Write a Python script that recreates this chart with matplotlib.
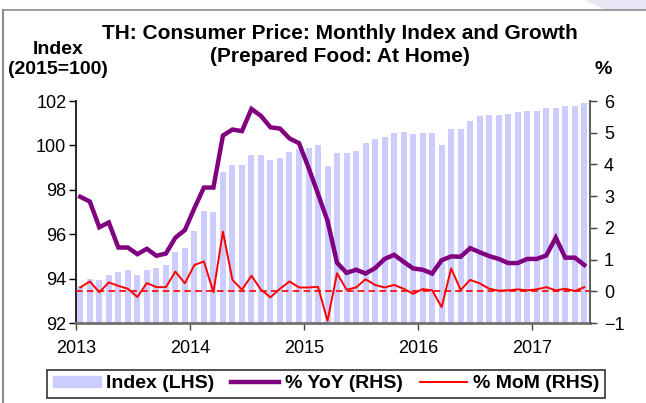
import numpy as np
import matplotlib
matplotlib.use("Agg")
import matplotlib.pyplot as plt
from matplotlib.lines import Line2D
from matplotlib.patches import Polygon

plt.rcParams['font.family'] = ['Liberation Sans', 'DejaVu Sans']

# monthly data, Jan 2013 - Jun 2017
index_lhs = [93.68, 93.98, 93.92, 94.17, 94.30, 94.37, 94.17, 94.40, 94.50, 94.61, 95.19, 95.39,
             96.15, 97.05, 97.00, 98.78, 99.11, 99.11, 99.57, 99.59, 99.36, 99.45, 99.71, 99.83,
             99.90, 100.02, 99.09, 99.65, 99.65, 99.75, 100.10, 100.29, 100.38, 100.55, 100.59, 100.50,
             100.55, 100.55, 100.02, 100.73, 100.74, 101.10, 101.33, 101.39, 101.39, 101.42, 101.50, 101.53,
             101.57, 101.69, 101.70, 101.78, 101.78, 101.91]
yoy = [2.98, 2.83, 2.02, 2.17, 1.38, 1.38, 1.17, 1.34, 1.12, 1.19, 1.69, 1.93,
       2.62, 3.27, 3.27, 4.91, 5.10, 5.05, 5.75, 5.53, 5.17, 5.13, 4.82, 4.67,
       3.90, 3.07, 2.22, 0.90, 0.58, 0.68, 0.56, 0.73, 1.02, 1.15, 0.93, 0.72,
       0.68, 0.56, 0.98, 1.10, 1.09, 1.36, 1.23, 1.11, 1.02, 0.89, 0.89, 1.02,
       1.02, 1.13, 1.69, 1.06, 1.06, 0.83]
mom = [0.12, 0.31, -0.03, 0.28, 0.17, 0.08, -0.18, 0.26, 0.13, 0.13, 0.62, 0.25,
       0.83, 0.94, -0.03, 1.88, 0.36, 0.05, 0.49, 0.05, -0.19, 0.08, 0.31, 0.12,
       0.12, 0.14, -0.93, 0.57, 0.05, 0.12, 0.38, 0.20, 0.12, 0.20, 0.08, -0.08,
       0.07, 0.03, -0.50, 0.72, 0.04, 0.36, 0.25, 0.08, 0.02, 0.03, 0.06, 0.03,
       0.06, 0.13, 0.03, 0.08, 0.01, 0.13]
year_labels = ['2013', '2014', '2015', '2016', '2017']
left_ticks = [92, 94, 96, 98, 100, 102]
right_ticks = [-1, 0, 1, 2, 3, 4, 5, 6]

x = np.arange(len(index_lhs)) + 0.45

W, H = 646, 403
fig = plt.figure(figsize=(W/100, H/100), dpi=100)
ax = fig.add_axes([76/W, 80/H, 514/W, 222/H])

ax.bar(x, index_lhs, width=0.63, color='#CCCCFF', label='Index (LHS)')
ax.set_ylim(92, 102)
ax.set_xlim(0, 54.05)
ax.set_yticks(left_ticks)
ax.set_xticks([0, 12, 24, 36, 48])
ax.set_xticklabels(year_labels)

ax2 = ax.twinx()
l1, = ax2.plot(x, yoy, color='#800080', lw=3.2, solid_joinstyle='miter', label='% YoY (RHS)')
l2, = ax2.plot(x, mom, color='#FF0000', lw=1.4, label='% MoM (RHS)')
ax2.axhline(0, color='#FF0000', lw=1.2, ls=(0, (4, 2.5)))
ax2.set_ylim(-1, 6)
ax2.set_yticks(right_ticks)

for a in (ax, ax2):
    a.spines['top'].set_visible(False)
ax.spines['right'].set_visible(False)
ax2.spines['left'].set_visible(False)
ax2.spines['bottom'].set_visible(False)
ax.spines['left'].set_color('black')
ax.spines['left'].set_linewidth(1.2)
ax.spines['bottom'].set_color('#707070')
ax.spines['bottom'].set_linewidth(2)
ax2.spines['right'].set_color('#606060')
ax2.spines['right'].set_linewidth(1.5)

ax.tick_params(axis='y', direction='out', length=5, width=1, pad=2, labelsize=13)
ax.tick_params(axis='x', direction='out', length=5, width=1, color='#404040', pad=7, labelsize=13)
ax2.tick_params(axis='y', direction='out', length=5, width=1, color='#404040', pad=5, labelsize=13)

# titles
fig.text(340/W, 1-33.5/H, 'TH: Consumer Price: Monthly Index and Growth', ha='center', va='center',
         fontsize=15, fontweight='bold')
fig.text(340/W, 1-57/H, '(Prepared Food: At Home)', ha='center', va='center',
         fontsize=15, fontweight='bold')
fig.text(58/W, 1-49/H, 'Index', ha='center', va='center', fontsize=14, fontweight='bold')
fig.text(58/W, 1-70/H, '(2015=100)', ha='center', va='center', fontsize=14, fontweight='bold')
fig.text(603/W, 1-70/H, '%', ha='center', va='center', fontsize=14, fontweight='bold')

# legend
bar_handle = plt.Rectangle((0, 0), 1, 1, color='#CCCCFF')
leg = fig.legend([bar_handle, l1, l2], ['Index (LHS)', '% YoY (RHS)', '% MoM (RHS)'],
                 loc='center', bbox_to_anchor=(326/W, 1-384/H), ncol=3, frameon=True,
                 fancybox=False, edgecolor='black', prop={'weight': 'bold', 'size': 14},
                 handlelength=2.45, handletextpad=0.28, columnspacing=0.88, borderpad=0.3,
                 handleheight=0.5)
leg.get_frame().set_linewidth(1.2)

# outer frame bits
fig.add_artist(Line2D([3/W, 3/W], [0, 1-10/H], color='#8c8c8c', lw=1.5))
fig.add_artist(Line2D([3/W, 1], [1-10/H, 1-10/H], color='#8c8c8c', lw=1.2))
fig.add_artist(Polygon([[585/W, 1], [1, 1], [1, 1-10/H], [605/W, 1-10/H]], closed=True,
                       transform=fig.transFigure, color='#e6e6f4', lw=0))

fig.savefig('out.png', dpi=100)
